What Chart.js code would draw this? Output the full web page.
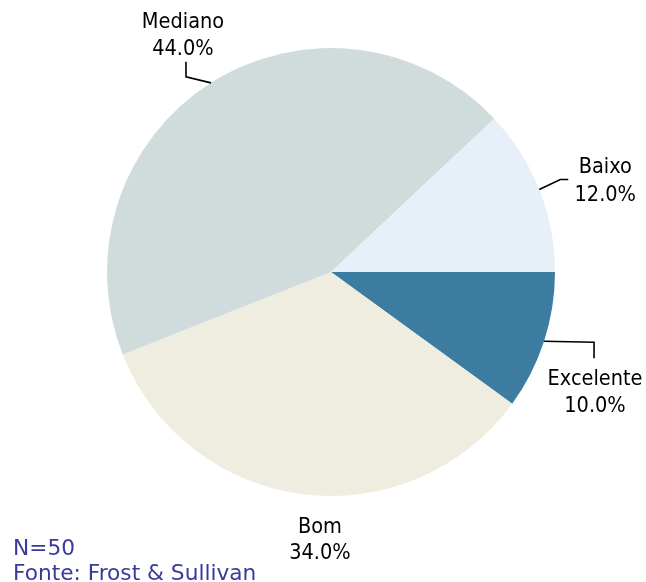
<!DOCTYPE html>
<html>
<head>
<meta charset="utf-8">
<script src="https://cdn.jsdelivr.net/npm/chart.js@4/dist/chart.umd.min.js"></script>
<style>
  html, body { margin: 0; padding: 0; background: #ffffff; }
  #wrap { position: relative; width: 646px; height: 582px; }
  canvas { display: block; }
</style>
</head>
<body>
<div id="wrap"><canvas id="c" width="646" height="582"></canvas></div>
<script>
// ---- data (drawing order: clockwise from 3 o'clock) ----
const categories = ['Excelente', 'Bom', 'Mediano', 'Baixo'];
const shares = [10.0, 34.0, 44.0, 12.0];
const sliceColors = ['#3d7ca1', '#eeede0', '#d0dcdc', '#e7f0f8'];
const footerLines = ['N=50', 'Fonte: Frost & Sullivan'];

// ---- label layout: offsets relative to the slice's outer mid-point ----
const labelLayout = {
  'Excelente': { leader: [[50, 1], [50, 17]], text: [51, 44], gap: 27 },
  'Bom':       { leader: null, text: [17, 39], gap: 26 },
  'Mediano':   { leader: [[-25, -6], [-25, -21]], text: [-28, -55], gap: 27 },
  'Baixo':     { leader: [[21, -10], [29, -10]], text: [66, -17], gap: 28 }
};

const labelFont = '21.5px "DejaVu Sans Condensed", "DejaVu Sans", Verdana, sans-serif';
const footerFont = '21.7px "DejaVu Sans", Verdana, sans-serif';

const pieLabels = {
  id: 'pieLabels',
  afterDatasetsDraw(chart) {
    const ctx = chart.ctx;
    const meta = chart.getDatasetMeta(0);
    const ds = chart.data.datasets[0];
    ctx.save();
    meta.data.forEach((arc, i) => {
      const p = arc.getProps(['x', 'y', 'startAngle', 'endAngle', 'outerRadius'], true);
      const mid = (p.startAngle + p.endAngle) / 2;
      const ax = p.x + Math.cos(mid) * p.outerRadius;
      const ay = p.y + Math.sin(mid) * p.outerRadius;
      const lay = labelLayout[chart.data.labels[i]];
      if (lay.leader) {
        ctx.beginPath();
        ctx.moveTo(ax, ay);
        lay.leader.forEach(pt => ctx.lineTo(ax + pt[0], ay + pt[1]));
        ctx.strokeStyle = '#000000';
        ctx.lineWidth = 1.6;
        ctx.stroke();
      }
      ctx.fillStyle = '#000000';
      ctx.font = labelFont;
      ctx.textAlign = 'center';
      ctx.textBaseline = 'alphabetic';
      const tx = ax + lay.text[0];
      const ty = ay + lay.text[1];
      ctx.fillText(chart.data.labels[i], tx, ty);
      ctx.fillText(ds.data[i].toFixed(1) + '%', tx, ty + lay.gap);
    });
    // footer
    ctx.fillStyle = '#3a3a9c';
    ctx.font = footerFont;
    ctx.textAlign = 'left';
    ctx.fillText(footerLines[0], 13, 555);
    ctx.fillText(footerLines[1], 13, 580);
    ctx.restore();
  }
};

new Chart(document.getElementById('c'), {
  type: 'pie',
  data: {
    labels: categories,
    datasets: [{
      data: shares,
      backgroundColor: sliceColors,
      borderWidth: 0
    }]
  },
  options: {
    responsive: false,
    devicePixelRatio: 1,
    animation: false,
    rotation: 90,
    layout: { padding: { left: 107, right: 91, top: 48, bottom: 86 } },
    plugins: {
      legend: { display: false },
      tooltip: { enabled: false },
      title: { display: false }
    }
  },
  plugins: [pieLabels]
});
</script>
</body>
</html>
